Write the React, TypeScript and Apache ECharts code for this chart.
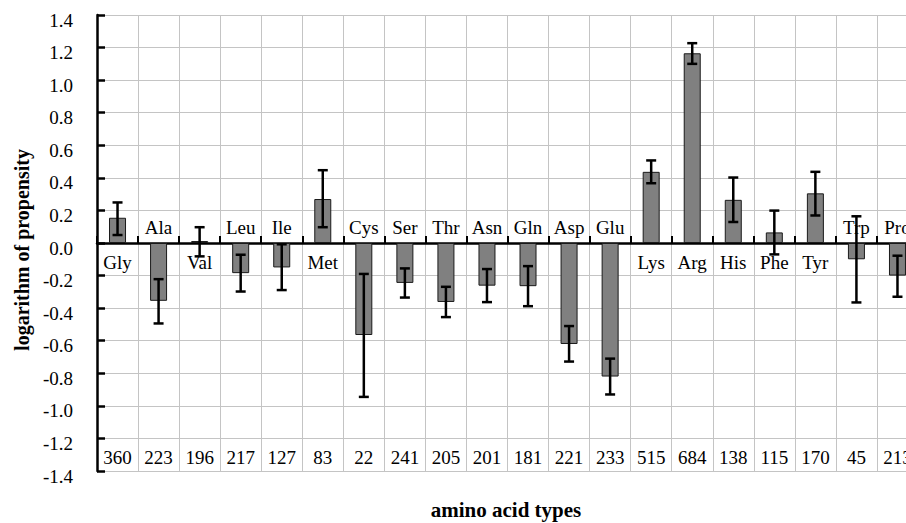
import React, { useEffect, useRef } from "react";
import * as echarts from "echarts";

const categories = ["Gly", "Ala", "Val", "Leu", "Ile", "Met", "Cys", "Ser", "Thr", "Asn", "Gln", "Asp", "Glu", "Lys", "Arg", "His", "Phe", "Tyr", "Trp", "Pro"];
const propensity = [0.155, -0.355, 0.012, -0.185, -0.15, 0.27, -0.565, -0.245, -0.362, -0.262, -0.265, -0.62, -0.82, 0.437, 1.165, 0.265, 0.065, 0.305, -0.1, -0.2];
const errHigh = [0.249, -0.222, 0.097, -0.072, -0.008, 0.447, -0.19, -0.156, -0.269, -0.16, -0.142, -0.51, -0.71, 0.507, 1.227, 0.402, 0.199, 0.437, 0.164, -0.078];
const errLow = [0.049, -0.494, -0.082, -0.298, -0.289, 0.097, -0.945, -0.335, -0.455, -0.363, -0.388, -0.728, -0.93, 0.367, 1.1, 0.129, -0.07, 0.169, -0.365, -0.33];
const counts = [360, 223, 196, 217, 127, 83, 22, 241, 205, 201, 181, 221, 233, 515, 684, 138, 115, 170, 45, 213];
const countRowValue = -1.32;

const FONT = "Liberation Serif";

export default function App() {
  const ref = useRef<HTMLDivElement>(null);
  useEffect(() => {
    if (!ref.current) return;
    document.documentElement.style.overflow = "hidden";
    document.body.style.overflow = "hidden";
    const chart = echarts.init(ref.current, undefined, { renderer: "svg" });
    chart.setOption({
      animation: false,
      backgroundColor: "#fff",
      textStyle: { fontFamily: FONT },
      grid: { left: 97, top: 15, right: 0, bottom: 52 },
      xAxis: {
        type: "category",
        data: categories,
        boundaryGap: true,
        axisLine: { show: true, onZero: true, lineStyle: { color: "#000", width: 2.5 } },
        axisTick: { show: true, inside: true, length: 7, interval: 0, lineStyle: { color: "#000", width: 2 } },
        axisLabel: { show: false, interval: 0 },
        splitLine: { show: true, interval: 0, lineStyle: { color: "#c4c4c4", width: 1 } },
      },
      yAxis: {
        type: "value",
        min: -1.4,
        max: 1.4,
        interval: 0.2,
        axisLine: { show: true, lineStyle: { color: "#000", width: 2.5 } },
        axisTick: { show: true, inside: true, length: 8, lineStyle: { color: "#000", width: 2.5 } },
        axisLabel: {
          color: "#000",
          margin: 24,
          formatter: (v: number) => `{v|${v.toFixed(1)}}`,
          rich: {
            v: { fontFamily: FONT, fontSize: 19, color: "#000", padding: [10, 0, 0, 0] },
          },
        },
        splitLine: { show: true, lineStyle: { color: "#c4c4c4", width: 1 } },
      },
      graphic: [
        {
          type: "text",
          x: 22,
          y: 250,
          rotation: Math.PI / 2,
          style: {
            text: "logarithm of propensity",
            fontFamily: FONT,
            fontWeight: "bold",
            fontSize: 20,
            fill: "#000",
            align: "center",
            verticalAlign: "middle",
          },
        },
        {
          type: "text",
          x: 506,
          y: 510,
          style: {
            text: "amino acid types",
            fontFamily: FONT,
            fontWeight: "bold",
            fontSize: 21,
            fill: "#000",
            align: "center",
            verticalAlign: "middle",
          },
        },
      ],
      series: [
        {
          type: "bar",
          data: propensity,
          barWidth: 17,
          itemStyle: { color: "#808080", borderColor: "#1a1a1a", borderWidth: 1 },
          z: 2,
        },
        {
          type: "custom",
          z: 3,
          clip: false,
          data: categories.map((_, i) => [i, errHigh[i], errLow[i]]),
          renderItem: (params: any, api: any) => {
            const i = api.value(0);
            const hi = api.coord([i, api.value(1)]);
            const lo = api.coord([i, api.value(2)]);
            const half = 5;
            const ls = { stroke: "#000", lineWidth: 2.5 };
            return {
              type: "group",
              children: [
                { type: "line", shape: { x1: hi[0], y1: hi[1], x2: lo[0], y2: lo[1] }, style: ls },
                { type: "line", shape: { x1: hi[0] - half, y1: hi[1], x2: hi[0] + half, y2: hi[1] }, style: ls },
                { type: "line", shape: { x1: lo[0] - half, y1: lo[1], x2: lo[0] + half, y2: lo[1] }, style: ls },
              ],
            };
          },
        },
        {
          type: "custom",
          z: 4,
          clip: false,
          data: categories.map((_, i) => [i, propensity[i]]),
          renderItem: (params: any, api: any) => {
            const i = api.value(0);
            const v = api.value(1);
            const p = api.coord([i, 0]);
            return {
              type: "text",
              x: p[0],
              y: v >= 0 ? p[1] + 19 : p[1] - 16,
              style: {
                text: categories[i],
                fontFamily: FONT,
                fontSize: 19,
                fill: "#000",
                align: "center",
                verticalAlign: "middle",
              },
            };
          },
        },
        {
          type: "custom",
          z: 4,
          clip: false,
          data: counts.map((c, i) => [i, countRowValue]),
          renderItem: (params: any, api: any) => {
            const i = api.value(0);
            const p = api.coord([i, api.value(1)]);
            return {
              type: "text",
              x: p[0],
              y: p[1],
              style: {
                text: String(counts[i]),
                fontFamily: FONT,
                fontSize: 19,
                fill: "#000",
                align: "center",
                verticalAlign: "middle",
              },
            };
          },
        },
      ],
    });
    return () => chart.dispose();
  }, []);
  return (
    <div
      ref={ref}
      style={{ position: "fixed", left: 0, top: 0, width: 918, height: 523, background: "#fff" }}
    />
  );
}
